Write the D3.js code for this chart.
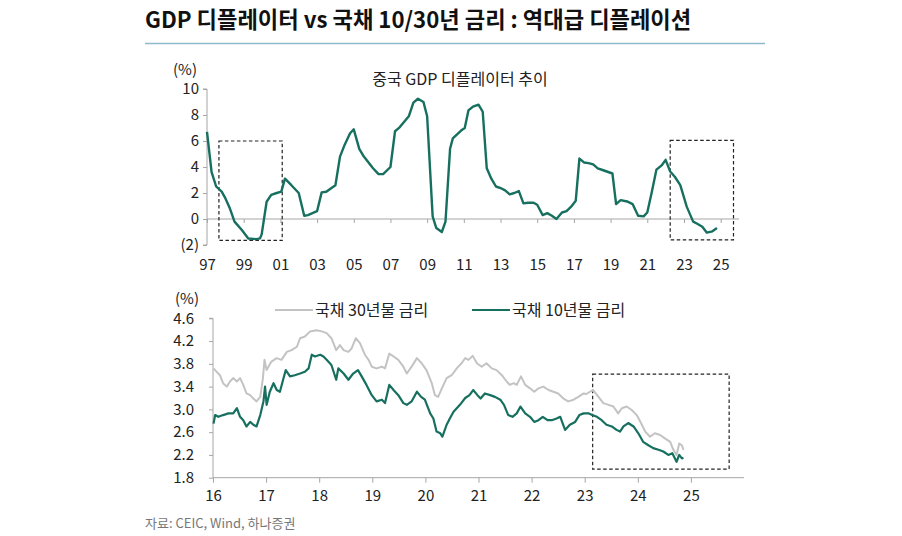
<!DOCTYPE html>
<html><head><meta charset="utf-8">
<script src="https://cdn.jsdelivr.net/npm/d3@7"></script>
<style>
html,body{margin:0;padding:0;background:#fff;}
svg{display:block;font-family:"Noto Sans CJK KR","Noto Sans",sans-serif;}
</style></head>
<body><svg id="c" width="902" height="536"></svg>
<script>
// ---------- DATA ----------
const titleText = "GDP 디플레이터 vs 국채 10/30년 금리 : 역대급 디플레이션";
const topSubtitle = "중국 GDP 디플레이터 추이";
const sourceText = "자료: CEIC, Wind, 하나증권";

// Top: China GDP deflator YoY (%), quarterly
const deflatorDates = [1997.0,1997.25,1997.5,1997.8,1998.0,1998.25,1998.5,1998.9,1999.25,1999.7,1999.89,1999.98,2000.25,2000.5,2000.8,2001.05,2001.25,2001.6,2002.0,2002.3,2002.5,2003.0,2003.25,2003.5,2004.0,2004.25,2004.5,2004.8,2005.0,2005.3,2005.55,2006.05,2006.35,2006.6,2007.0,2007.25,2007.5,2008.0,2008.25,2008.5,2008.8,2009.0,2009.3,2009.5,2009.8,2010.0,2010.25,2010.4,2010.85,2011.05,2011.25,2011.5,2011.8,2012.03,2012.25,2012.5,2012.75,2013.05,2013.25,2013.5,2013.75,2014.0,2014.25,2014.5,2014.8,2015.0,2015.3,2015.55,2015.8,2016.05,2016.35,2016.6,2016.85,2017.1,2017.3,2017.55,2017.8,2018.05,2018.3,2018.6,2019.1,2019.3,2019.55,2019.9,2020.2,2020.5,2020.8,2021.0,2021.25,2021.5,2021.8,2022.0,2022.25,2022.5,2022.8,2023.15,2023.5,2023.7,2024.0,2024.25,2024.55,2024.8];
const deflatorValues = [6.7,3.6,2.5,2.1,1.6,0.8,-0.2,-0.85,-1.5,-1.55,-1.49,-1.18,1.33,1.85,2.0,2.1,3.1,2.6,2.0,0.25,0.3,0.6,2.05,2.1,2.6,4.8,5.7,6.6,6.9,5.4,4.8,3.9,3.45,3.45,4.0,6.75,7.05,7.9,8.95,9.25,9.0,7.9,0.2,-0.7,-1.0,-0.2,5.4,6.2,6.8,7.0,8.35,8.65,8.8,8.25,3.9,3.1,2.5,2.35,2.2,1.9,2.0,2.15,1.2,1.25,1.25,1.1,0.3,0.45,0.25,0.0,0.5,0.6,0.95,1.4,4.65,4.35,4.3,4.2,3.9,3.75,3.5,1.15,1.45,1.35,1.15,0.25,0.2,0.5,2.1,3.8,4.15,4.55,3.65,3.25,2.6,0.95,-0.2,-0.35,-0.6,-1.05,-0.95,-0.7];
const topYTicks = [-2,0,2,4,6,8,10];
const topYLabels = ["(2)","0","2","4","6","8","10"];
const topXTicks = [1997,1999,2001,2003,2005,2007,2009,2011,2013,2015,2017,2019,2021,2023,2025];
const topXLabels = ["97","99","01","03","05","07","09","11","13","15","17","19","21","23","25"];
// highlight boxes (year range, value range)
const topBoxes = [[1997.65,2001.1,-1.65,6.0],[2022.25,2025.7,-1.6,6.05]];

// Bottom: China government bond yields (%)
const bond30Dates = [2016.01,2016.07,2016.13,2016.19,2016.26,2016.32,2016.38,2016.45,2016.51,2016.57,2016.63,2016.70,2016.76,2016.82,2016.89,2016.94,2016.97,2017.01,2017.10,2017.20,2017.29,2017.39,2017.48,2017.58,2017.64,2017.73,2017.83,2017.95,2018.05,2018.14,2018.23,2018.32,2018.39,2018.46,2018.55,2018.61,2018.69,2018.77,2018.86,2018.93,2018.99,2019.08,2019.18,2019.24,2019.32,2019.40,2019.49,2019.585,2019.65,2019.74,2019.84,2019.93,2020.02,2020.12,2020.18,2020.24,2020.31,2020.40,2020.495,2020.59,2020.68,2020.75,2020.81,2020.89,2020.97,2021.06,2021.15,2021.25,2021.34,2021.44,2021.53,2021.59,2021.66,2021.72,2021.80,2021.88,2021.97,2022.05,2022.13,2022.22,2022.32,2022.41,2022.50,2022.60,2022.69,2022.79,2022.88,2022.98,2023.03,2023.10,2023.16,2023.26,2023.35,2023.45,2023.54,2023.63,2023.70,2023.79,2023.885,2023.98,2024.06,2024.14,2024.23,2024.32,2024.42,2024.51,2024.61,2024.67,2024.73,2024.78,2024.83,2024.86];
const bond30Values = [3.72,3.66,3.60,3.46,3.40,3.49,3.55,3.49,3.55,3.43,3.28,3.25,3.19,3.14,3.22,3.55,3.87,3.69,3.84,3.90,3.87,4.01,4.04,4.10,4.25,4.28,4.37,4.39,4.37,4.34,4.25,4.04,4.13,4.04,4.01,4.07,4.25,4.16,3.96,3.87,3.75,3.72,3.75,3.72,3.98,3.93,3.87,3.75,3.63,3.75,3.90,3.81,3.69,3.46,3.25,3.22,3.37,3.55,3.60,3.72,3.81,3.90,3.87,3.94,3.81,3.75,3.81,3.72,3.69,3.60,3.49,3.43,3.46,3.43,3.58,3.43,3.37,3.31,3.37,3.40,3.34,3.31,3.28,3.19,3.14,3.17,3.22,3.28,3.27,3.31,3.34,3.22,3.11,3.08,3.05,2.93,3.02,3.05,2.99,2.90,2.76,2.61,2.52,2.58,2.55,2.49,2.43,2.29,2.20,2.40,2.37,2.29];
const bond10Dates = [2016.01,2016.04,2016.10,2016.19,2016.29,2016.38,2016.45,2016.51,2016.57,2016.63,2016.70,2016.76,2016.82,2016.89,2016.95,2016.98,2017.01,2017.07,2017.14,2017.20,2017.26,2017.32,2017.37,2017.45,2017.54,2017.64,2017.73,2017.80,2017.86,2017.92,2018.02,2018.08,2018.14,2018.23,2018.32,2018.36,2018.46,2018.55,2018.64,2018.73,2018.80,2018.89,2018.99,2019.08,2019.18,2019.24,2019.32,2019.40,2019.49,2019.585,2019.65,2019.74,2019.84,2019.92,2019.99,2020.09,2020.15,2020.21,2020.28,2020.32,2020.40,2020.46,2020.53,2020.59,2020.65,2020.75,2020.83,2020.90,2020.98,2021.04,2021.12,2021.22,2021.31,2021.41,2021.48,2021.56,2021.64,2021.72,2021.79,2021.88,2021.97,2022.05,2022.13,2022.21,2022.30,2022.38,2022.47,2022.54,2022.63,2022.72,2022.82,2022.90,2022.98,2023.07,2023.14,2023.23,2023.32,2023.41,2023.51,2023.60,2023.665,2023.73,2023.82,2023.92,2024.01,2024.10,2024.20,2024.29,2024.39,2024.48,2024.575,2024.65,2024.73,2024.78,2024.83,2024.86];
const bond10Values = [2.75,2.90,2.87,2.90,2.93,2.93,3.02,2.87,2.81,2.70,2.78,2.73,2.70,2.90,3.14,3.40,3.08,3.31,3.46,3.34,3.31,3.52,3.69,3.58,3.60,3.63,3.66,3.72,3.96,3.93,3.96,3.93,3.87,3.78,3.52,3.72,3.63,3.52,3.63,3.69,3.58,3.43,3.25,3.14,3.17,3.11,3.43,3.34,3.25,3.11,3.08,3.14,3.31,3.22,3.17,2.93,2.84,2.61,2.58,2.52,2.73,2.84,2.96,3.02,3.08,3.20,3.25,3.34,3.25,3.19,3.28,3.25,3.22,3.17,3.08,2.90,2.87,2.93,3.05,2.93,2.87,2.78,2.81,2.87,2.81,2.81,2.84,2.87,2.64,2.73,2.78,2.90,2.93,2.93,2.90,2.87,2.81,2.73,2.70,2.64,2.61,2.70,2.76,2.70,2.58,2.43,2.37,2.32,2.29,2.26,2.20,2.23,2.08,2.20,2.14,2.15];
const botYTicks = [1.8,2.2,2.6,3.0,3.4,3.8,4.2,4.6];
const botYLabels = ["1.8","2.2","2.6","3.0","3.4","3.8","4.2","4.6"];
const botXTicks = [2016,2017,2018,2019,2020,2021,2022,2023,2024,2025];
const botXLabels = ["16","17","18","19","20","21","22","23","24","25"];
const legendNames = ["국채 30년물 금리","국채 10년물 금리"];
const botBox = [2023.15,2025.72,1.95,3.62];

// ---------- STYLE ----------
const GREEN = "#17705f", GRAY = "#c3c3c3", AXIS = "#a6a6a6", TXT = "#222";
const svg = d3.select("#c");

// Title
svg.append("text").attr("x",145).attr("y",28).attr("font-size",22.2).attr("font-weight",700)
  .attr("fill","#111").text(titleText);
svg.append("line").attr("x1",145).attr("x2",765).attr("y1",43.5).attr("y2",43.5)
  .attr("stroke","#8dbccc").attr("stroke-width",1.5);

// ---------- TOP CHART ----------
const xT = d3.scaleLinear().domain([1997,2026]).range([207,739]);
const yT = d3.scaleLinear().domain([-2,10]).range([245,89]);

const gTY = svg.append("g").attr("transform",`translate(${xT(1997)},0)`)
  .call(d3.axisLeft(yT).tickValues(topYTicks).tickSize(4).tickPadding(4)
    .tickFormat((d,i)=>topYLabels[i]));
const gTX = svg.append("g").attr("transform",`translate(0,${yT(0)})`)
  .call(d3.axisBottom(xT).tickValues(topXTicks).tickSize(4).tickPadding(36)
    .tickFormat((d,i)=>topXLabels[i]));
[gTY,gTX].forEach(g=>{
  g.select(".domain").attr("stroke",AXIS);
  g.selectAll(".tick line").attr("stroke",AXIS);
  g.selectAll("text").attr("fill",TXT).attr("font-size",15).attr("font-family",'"Noto Sans CJK KR",sans-serif');
});
gTX.select(".domain").attr("d",`M${xT(1997)},0H${xT(2026)}`);
gTY.select(".domain").attr("d",`M-4,${yT(10)}H0V${yT(-2)}H-4`);

svg.append("text").attr("x",173).attr("y",75).attr("font-size",15).attr("fill",TXT).text("(%)");
svg.append("text").attr("x",460).attr("y",85).attr("font-size",16).attr("text-anchor","middle").attr("fill",TXT).text(topSubtitle);

topBoxes.forEach(b=>{
  svg.append("rect").attr("x",xT(b[0])).attr("y",yT(b[3]))
    .attr("width",xT(b[1])-xT(b[0])).attr("height",yT(b[2])-yT(b[3]))
    .attr("fill","none").attr("stroke","#222").attr("stroke-width",1.2).attr("stroke-dasharray","3.5,2.5");
});

const topData = deflatorDates.map((d,i)=>[d,deflatorValues[i]]);
svg.append("path").datum(topData)
  .attr("d",d3.line().x(d=>xT(d[0])).y(d=>yT(d[1])))
  .attr("fill","none").attr("stroke",GREEN).attr("stroke-width",2.4).attr("stroke-linejoin","round");

// ---------- BOTTOM CHART ----------
const xB = d3.scaleLinear().domain([2016,2026]).range([213,744]);
const yB = d3.scaleLinear().domain([1.8,4.6]).range([477.7,318.3]);

const gBY = svg.append("g").attr("transform",`translate(${xB(2016)},0)`)
  .call(d3.axisLeft(yB).tickValues(botYTicks).tickSize(4).tickPadding(15)
    .tickFormat((d,i)=>botYLabels[i]));
const gBX = svg.append("g").attr("transform",`translate(0,${yB(1.8)})`)
  .call(d3.axisBottom(xB).tickValues(botXTicks).tickSize(5).tickPadding(8)
    .tickFormat((d,i)=>botXLabels[i]));
[gBY,gBX].forEach(g=>{
  g.select(".domain").attr("stroke",AXIS);
  g.selectAll(".tick line").attr("stroke",AXIS);
  g.selectAll("text").attr("fill",TXT).attr("font-size",15).attr("font-family",'"Noto Sans CJK KR",sans-serif');
});
gBX.select(".domain").attr("d",`M${xB(2016)},0H${xB(2026)}`);
gBY.select(".domain").attr("d",`M-4,${yB(4.6)}H0V${yB(1.8)}`);

svg.append("text").attr("x",175).attr("y",304).attr("font-size",15).attr("fill",TXT).text("(%)");

// legend
const legendColors = [GRAY, GREEN];
const legendX = [275, 472];
legendNames.forEach((n,i)=>{
  svg.append("line").attr("x1",legendX[i]).attr("x2",legendX[i]+38).attr("y1",310).attr("y2",310)
    .attr("stroke",legendColors[i]).attr("stroke-width",2);
  svg.append("text").attr("x",legendX[i]+40).attr("y",315.5).attr("font-size",16).attr("fill",TXT).text(n);
});

svg.append("rect").attr("x",xB(botBox[0])).attr("y",yB(botBox[3]))
  .attr("width",xB(botBox[1])-xB(botBox[0])).attr("height",yB(botBox[2])-yB(botBox[3]))
  .attr("fill","none").attr("stroke","#222").attr("stroke-width",1.2).attr("stroke-dasharray","3.5,2.5");

const lineB = d3.line().x(d=>xB(d[0])).y(d=>yB(d[1]));
svg.append("path").datum(bond30Dates.map((d,i)=>[d,bond30Values[i]]))
  .attr("d",lineB).attr("fill","none").attr("stroke",GRAY).attr("stroke-width",2).attr("stroke-linejoin","round");
svg.append("path").datum(bond10Dates.map((d,i)=>[d,bond10Values[i]]))
  .attr("d",lineB).attr("fill","none").attr("stroke",GREEN).attr("stroke-width",2.2).attr("stroke-linejoin","round");

// source
svg.append("text").attr("x",145).attr("y",528).attr("font-size",13).attr("fill","#777").text(sourceText);
</script></body></html>
